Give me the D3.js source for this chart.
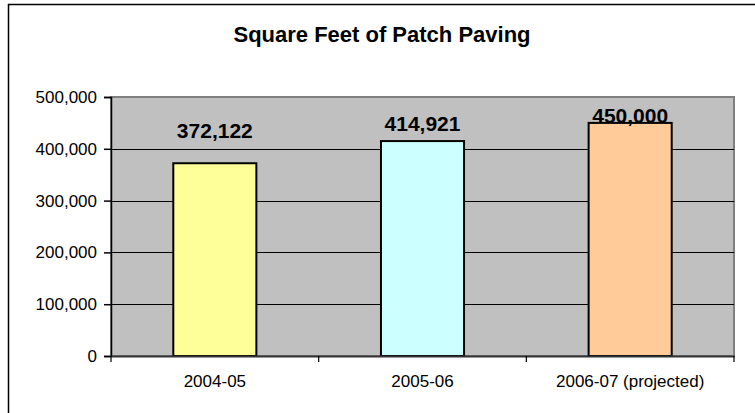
<!DOCTYPE html>
<html>
<head>
<meta charset="utf-8">
<script src="https://cdn.jsdelivr.net/npm/d3@7"></script>
<style>
  body { margin: 0; background: #fff; }
  svg { display: block; font-family: "Liberation Sans", Arial, sans-serif; }
</style>
</head>
<body>
<svg id="chart" width="755" height="413"></svg>
<script>
const years = ["2004-05", "2005-06", "2006-07 (projected)"];
const squareFeet = [372122, 414921, 450000];
const barColors = ["#FFFF99", "#CCFFFF", "#FFCC99"];
const yTicks = [0, 100000, 200000, 300000, 400000, 500000];

const svg = d3.select("#chart");
const margin = { top: 97, right: 21, bottom: 57, left: 111 };
const width = 755, height = 413;

// outer chart frame
svg.append("rect")
  .attr("x", 8.5).attr("y", 4.5)
  .attr("width", 760).attr("height", 420)
  .attr("fill", "#fff").attr("stroke", "#000").attr("stroke-width", 1.5);

svg.append("text")
  .attr("x", 382).attr("y", 42)
  .attr("text-anchor", "middle")
  .attr("font-weight", "bold").attr("font-size", 22)
  .text("Square Feet of Patch Paving");

const x = d3.scaleBand()
  .domain(years)
  .range([margin.left, width - margin.right])
  .paddingInner(0.6).paddingOuter(0.3);

const y = d3.scaleLinear()
  .domain([0, 500000])
  .range([height - margin.bottom, margin.top]);

// plot area
svg.append("rect")
  .attr("x", margin.left).attr("y", margin.top)
  .attr("width", width - margin.right - margin.left)
  .attr("height", y(0) - margin.top)
  .attr("fill", "#C0C0C0").attr("stroke", "#808080").attr("stroke-width", 2);

// gridlines
svg.append("g")
  .selectAll("line")
  .data(yTicks.filter(d => d > 0 && d < 500000))
  .join("line")
  .attr("x1", margin.left).attr("x2", width - margin.right)
  .attr("y1", d => Math.round(y(d)) + 0.5).attr("y2", d => Math.round(y(d)) + 0.5)
  .attr("stroke", "#000").attr("stroke-width", 1);

// bars
svg.append("g")
  .selectAll("rect")
  .data(squareFeet)
  .join("rect")
  .attr("x", (d, i) => x(years[i]))
  .attr("y", d => y(d))
  .attr("width", x.bandwidth())
  .attr("height", d => y(0) - y(d))
  .attr("fill", (d, i) => barColors[i])
  .attr("stroke", "#000").attr("stroke-width", 2);

// value labels (lifted by hand in the original)
const labelLift = [25, 10, 0];
svg.append("g")
  .selectAll("text")
  .data(squareFeet)
  .join("text")
  .attr("x", (d, i) => x(years[i]) + x.bandwidth() / 2)
  .attr("y", (d, i) => y(d) - labelLift[i])
  .attr("text-anchor", "middle")
  .attr("font-weight", "bold").attr("font-size", 21)
  .text(d3.format(","));

// y axis
const yAxis = svg.append("g")
  .attr("transform", `translate(${margin.left},0)`)
  .call(d3.axisLeft(y).tickValues(yTicks).tickFormat(d3.format(",")).tickSize(7).tickPadding(7));
yAxis.selectAll("text").attr("font-size", 17).attr("fill", "#000").attr("font-family", null);
yAxis.selectAll("line, path").attr("stroke", "#000").attr("stroke-width", 1.5);

// x axis
const xAxis = svg.append("g")
  .attr("transform", `translate(0,${y(0)})`)
  .call(d3.axisBottom(x).tickSize(0).tickPadding(19));
xAxis.select(".domain").attr("stroke", "#333").attr("stroke-width", 2);
xAxis.selectAll("text").attr("font-size", 17).attr("fill", "#000").attr("font-family", null);

// category separator ticks
const bounds = [margin.left, ...years.slice(1).map(c => x(c) - x.step() * x.paddingInner() / 2), width - margin.right];
xAxis.append("g")
  .selectAll("line")
  .data(bounds)
  .join("line")
  .attr("x1", d => d).attr("x2", d => d)
  .attr("y1", 0).attr("y2", 6)
  .attr("stroke", "#000").attr("stroke-width", 1.2);
</script>
</body>
</html>
